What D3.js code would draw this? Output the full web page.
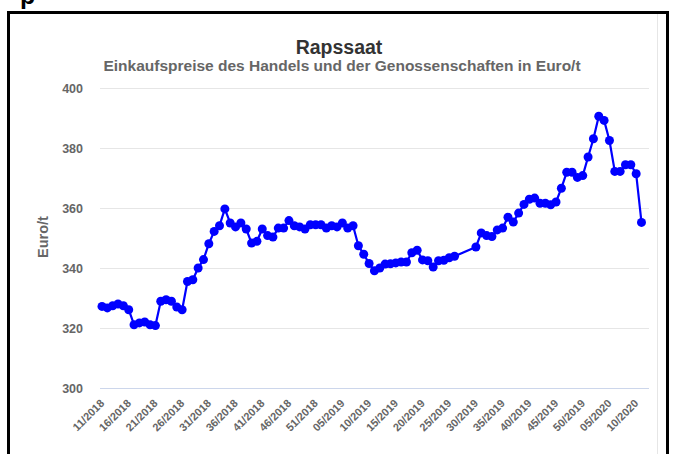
<!DOCTYPE html>
<html>
<head>
<meta charset="utf-8">
<script src="https://cdn.jsdelivr.net/npm/d3@7"></script>
<style>
  html, body { margin: 0; padding: 0; background: #ffffff; }
  svg { display: block; }
  text { font-family: "Liberation Sans", Arial, sans-serif; }
</style>
</head>
<body>
<svg id="chart" width="674" height="454"></svg>
<script>
// ---------- data ----------
const titleText = "Rapssaat";
const subtitleText = "Einkaufspreise des Handels und der Genossenschaften in Euro/t";
const yAxisTitle = "Euro/t";

const categories = [
  "11/2018","12/2018","13/2018","14/2018","15/2018","16/2018","17/2018","18/2018","19/2018","20/2018",
  "21/2018","22/2018","23/2018","24/2018","25/2018","26/2018","27/2018","28/2018","29/2018","30/2018",
  "31/2018","32/2018","33/2018","34/2018","35/2018","36/2018","37/2018","38/2018","39/2018","40/2018",
  "41/2018","42/2018","43/2018","44/2018","45/2018","46/2018","47/2018","48/2018","49/2018","50/2018",
  "51/2018","52/2018","02/2019","03/2019","04/2019","05/2019","06/2019","07/2019","08/2019","09/2019",
  "10/2019","11/2019","12/2019","13/2019","14/2019","15/2019","16/2019","17/2019","18/2019","19/2019",
  "20/2019","21/2019","22/2019","23/2019","24/2019","25/2019","26/2019","27/2019","28/2019","29/2019",
  "30/2019","31/2019","32/2019","33/2019","34/2019","35/2019","36/2019","37/2019","38/2019","39/2019",
  "40/2019","41/2019","42/2019","43/2019","44/2019","45/2019","46/2019","47/2019","48/2019","49/2019",
  "50/2019","51/2019","02/2020","03/2020","04/2020","05/2020","06/2020","07/2020","08/2020","09/2020",
  "10/2020","11/2020"
];

const prices = [
  327.2, 326.7, 327.4, 328.0, 327.4, 326.1, 321.1, 321.7, 322.0, 321.1,
  320.8, 328.9, 329.4, 328.9, 327.0, 326.1, 335.5, 336.1, 340.0, 342.8,
  348.1, 352.2, 354.1, 359.7, 355.0, 353.7, 355.0, 353.0, 348.3, 348.9,
  353.0, 350.8, 350.3, 353.3, 353.3, 355.8, 354.1, 353.7, 353.0, 354.4,
  354.4, 354.4, 353.3, 354.1, 353.7, 355.0, 353.3, 354.1, 347.4, 344.6,
  341.5, 339.1, 340.0, 341.3, 341.4, 341.7, 342.0, 342.0, 345.1, 345.9,
  342.7, 342.4, 340.3, 342.4, 342.6, 343.4, 343.9, null, null, null,
  347.0, 351.7, 350.8, 350.5, 352.7, 353.3, 356.9, 355.3, 358.3, 361.2,
  362.9, 363.3, 361.6, 361.6, 361.1, 362.0, 366.6, 371.9, 371.9, 370.2,
  370.8, 377.0, 383.1, 390.6, 389.2, 382.5, 372.2, 372.2, 374.4, 374.4,
  371.4, 355.2
];

const xTickLabels = [
  "11/2018","16/2018","21/2018","26/2018","31/2018","36/2018","41/2018","46/2018","51/2018",
  "05/2019","10/2019","15/2019","20/2019","25/2019","30/2019","35/2019","40/2019","45/2019","50/2019",
  "05/2020","10/2020"
];
const yTicks = [300, 320, 340, 360, 380, 400];

// ---------- drawing ----------
const svg = d3.select("#chart");

// outer frame (screenshot border)
svg.append("rect")
  .attr("x", 8.5).attr("y", 12.5)
  .attr("width", 659).attr("height", 460)
  .attr("fill", "none").attr("stroke", "#000").attr("stroke-width", 3);
svg.append("line")
  .attr("x1", 657.5).attr("x2", 657.5).attr("y1", 14).attr("y2", 454)
  .attr("stroke", "#e6e6e6").attr("stroke-width", 1);
svg.append("text")
  .attr("x", 20).attr("y", 4)
  .attr("font-size", 25).attr("font-weight", "bold").attr("fill", "#000")
  .text("p");

const plotLeft = 100, plotRight = 649, plotTop = 88, plotBottom = 388;

const x = d3.scalePoint().domain(categories).range([102, 641.5]);
const y = d3.scaleLinear().domain([300, 400]).range([plotBottom, plotTop]);

// gridlines
svg.append("g").selectAll("line")
  .data(yTicks)
  .join("line")
  .attr("x1", plotLeft).attr("x2", plotRight)
  .attr("y1", d => Math.round(y(d)) + 0.5).attr("y2", d => Math.round(y(d)) + 0.5)
  .attr("stroke", d => d === 300 ? "#ccd6eb" : "#e6e6e6")
  .attr("stroke-width", 1);

// y tick labels
svg.append("g").selectAll("text")
  .data(yTicks)
  .join("text")
  .attr("x", 83).attr("y", d => y(d) + 4.5)
  .attr("text-anchor", "end")
  .attr("font-size", 12.5).attr("font-weight", "bold").attr("fill", "#666666")
  .text(d => d);

// y axis title
svg.append("text")
  .attr("transform", "translate(48," + ((plotTop + plotBottom) / 2 - 1) + ") rotate(-90)")
  .attr("text-anchor", "middle")
  .attr("font-size", 14.5).attr("font-weight", "bold").attr("fill", "#666666")
  .text(yAxisTitle);

// x tick labels
svg.append("g").selectAll("text")
  .data(xTickLabels)
  .join("text")
  .attr("transform", d => "translate(" + (x(d) + 3) + ",404) rotate(-45)")
  .attr("text-anchor", "end")
  .attr("font-size", 11).attr("font-weight", "bold").attr("fill", "#666666")
  .text(d => d);

// title & subtitle
svg.append("text")
  .attr("x", 339).attr("y", 54)
  .attr("text-anchor", "middle")
  .attr("font-size", 19.5).attr("font-weight", "bold").attr("fill", "#333333")
  .text(titleText);
svg.append("text")
  .attr("x", 342).attr("y", 71)
  .attr("text-anchor", "middle")
  .attr("font-size", 15.5).attr("font-weight", "bold").attr("fill", "#666666")
  .text(subtitleText);

// series
const pts = categories.map((c, i) => ({ c, v: prices[i] })).filter(d => d.v !== null);

svg.append("path")
  .datum(pts)
  .attr("fill", "none")
  .attr("stroke", "#0000ff")
  .attr("stroke-width", 2.2)
  .attr("stroke-linejoin", "round")
  .attr("d", d3.line().x(d => x(d.c)).y(d => y(d.v)));

svg.append("g").selectAll("circle")
  .data(pts)
  .join("circle")
  .attr("cx", d => x(d.c)).attr("cy", d => y(d.v))
  .attr("r", 4.5)
  .attr("fill", "#0000ff");
</script>
</body>
</html>
